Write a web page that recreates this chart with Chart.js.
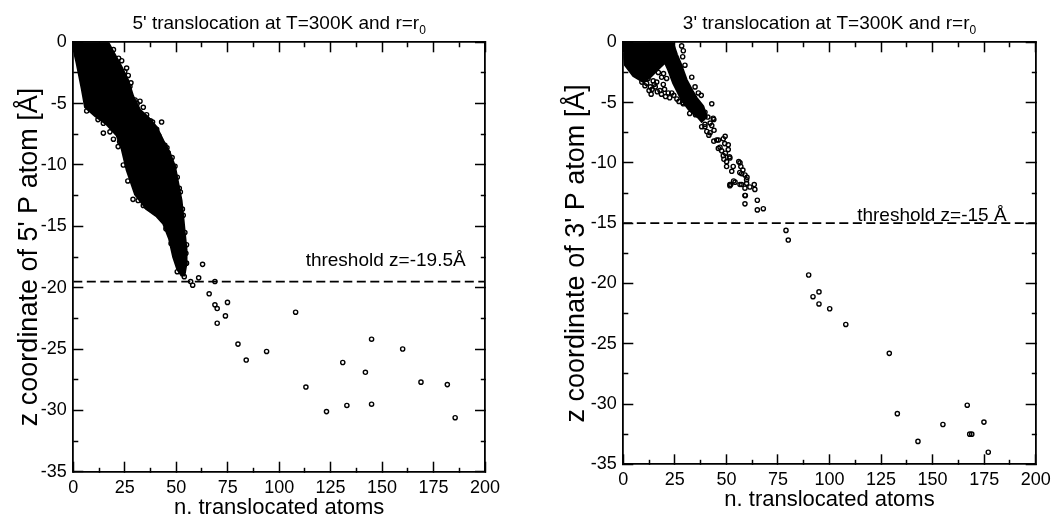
<!DOCTYPE html>
<html>
<head>
<meta charset="utf-8">
<script src="https://cdn.jsdelivr.net/npm/chart.js@4.4.1/dist/chart.umd.min.js"></script>
<style>
  html, body { margin: 0; padding: 0; background: #fff; }
  #wrap { position: relative; width: 1056px; height: 517px; overflow: hidden; background: #fff; }
  canvas { position: absolute; top: 0; }
  #c5 { left: 0; }
  #c3 { left: 528px; }
</style>
</head>
<body>
<div id="wrap">
  <canvas id="c5" width="528" height="517"></canvas>
  <canvas id="c3" width="528" height="517"></canvas>
</div>
<script>
// ---- axes ----
const xTicks = [0, 25, 50, 75, 100, 125, 150, 175, 200];
const xMinorTicks = [12.5, 37.5, 62.5, 87.5, 112.5, 137.5, 162.5, 187.5];
const zTicks = [0, -5, -10, -15, -20, -25, -30, -35];
const zMinorTicks = [-2.5, -7.5, -12.5, -17.5, -22.5, -27.5, -32.5];

// ---- 5' translocation ----
// outline of the saturated cloud of frames (x = translocated atoms, z = P coordinate)
const cloud5X = [0, 17, 20.2, 23.5, 26.7, 29.1, 32.4, 36.4, 40.5, 43.7, 46.9, 49.4, 51, 52.6, 53.4, 54.2, 55, 55, 54, 52.5, 50.5, 48.5, 46.5, 43.7, 40.5, 35.6, 30, 25.9, 23.5, 21.1, 16.2, 10.5, 5.7, 4.1, 1.6, 0];
const cloud5Z = [0, 0, -1.0, -2.0, -3.1, -4.4, -5.5, -6.1, -6.9, -8.0, -9.0, -10.1, -11.5, -12.9, -14.2, -15.6, -16.9, -18.0, -19.0, -19.0, -18.5, -17.5, -16.0, -14.8, -14.2, -13.6, -12.4, -10.4, -8.7, -7.6, -6.7, -6.0, -5.3, -3.8, -1.7, -0.5];
// individual frames around the cloud and after the threshold
const frames5X = [14.6, 14.6, 17.8, 21.8, 24.3, 34, 35.6, 37.2, 38, 41.3, 42, 42.9, 25.9, 26.7, 30, 32.4, 35.6, 42.9, 40.5, 46.1, 46.9, 48.5, 49.4, 53.4, 54.7, 55, 54.2, 53.9, 23.5, 28, 38.5, 44.5, 48, 50.5, 52, 54.2, 55,
  19.5, 22, 25, 27.5, 31, 34, 37.5, 41.5, 45.5, 51.5, 53, 6.5, 12, 19.5, 22.5, 26.5, 29, 31.5, 45, 47.5, 50.5,
  62.8, 57, 58, 60.9, 68.8, 66, 68.8, 69.9, 74.9, 73.9, 69.9, 80, 84, 93.9, 108, 113, 123, 130.9, 132.9, 141.9, 144.9, 144.9, 160, 168.9, 181.7, 185.5];
const frames5Z = [-6.6, -7.4, -7.3, -8.5, -10.0, -13.3, -13.4, -13.5, -13.6, -13.9, -14.1, -14.1, -2.1, -2.7, -4.7, -4.8, -5.9, -6.5, -7.1, -9.0, -9.9, -10.1, -10.1, -14.1, -17.2, -18.0, -18.0, -19.1, -1.5, -3.3, -6.5, -8.4, -9.4, -11.0, -12.2, -15.5, -16.5,
  -0.6, -1.3, -2.4, -3.6, -5.0, -5.3, -6.4, -7.6, -8.6, -11.9, -13.6, -5.6, -6.3, -7.9, -8.1, -11.3, -12.8, -12.9, -15.2, -16.4, -18.7,
  -18.1, -19.5, -19.8, -19.2, -19.5, -20.5, -21.4, -21.7, -21.2, -22.3, -22.9, -24.6, -25.9, -25.2, -22.0, -28.1, -30.1, -26.1, -29.6, -26.9, -24.2, -29.5, -25.0, -27.7, -27.9, -30.6];
const threshold5 = -19.5;

// ---- 3' translocation ----
const cloud3X = [0, 24, 26, 28, 30.7, 33.5, 35.6, 38.8, 40.5, 38, 36.6, 31.8, 28.3, 24.2, 21.8, 20.2, 17.8, 13.1, 9.7, 4.8, 0.8, 0];
const cloud3Z = [0, 0, -1.0, -1.8, -3.1, -4.0, -4.6, -5.3, -6.2, -6.6, -6.3, -5.6, -4.8, -3.4, -2.3, -1.7, -2.1, -2.9, -3.3, -2.8, -1.9, -0.9];
const frames3X = [28.3, 29.1, 28.8, 29.9, 33.2, 34.8, 36.4, 37.8, 42.9, 39.6, 43.6, 42.1, 39.6, 42.1, 45.3, 49.4, 46.9, 50.9, 51.7, 50.1, 56.6, 57.4, 59.8, 51.7, 59, 59,
  11.3, 13.1, 15.5, 17.8, 19.4, 21.8, 21, 18.6, 16.2, 12, 14.5, 17, 19.5, 28.8, 29.1,
  9, 10.5, 12.5, 14, 16.5, 18.5, 20.5, 22.5, 23.5, 20, 15, 13.5, 24.5, 26, 27,
  32.2, 35, 38, 41, 43.9, 38, 39.6, 42.9, 43.9, 46.1, 48.5, 49.2, 50.9, 46.1, 47.7, 48.5, 49.5, 50.1, 48.8, 51.5, 53.3, 52.6, 56, 57, 58, 59, 60, 56.5, 51.7, 53.5, 57.4, 59, 59.8, 54.2, 56.6, 61.4, 63.5, 63.8, 52.1, 59.2, 65, 67.9, 65, 40.5, 41.5, 44,
  78.9, 80, 89.9, 92, 94.9, 94.9, 100.1, 107.9, 129, 132.9, 142.9, 155, 166.8, 168, 169, 174.9, 177];
const frames3Z = [-0.3, -0.7, -1.2, -1.9, -2.9, -3.7, -4.2, -4.4, -5.1, -5.8, -6.3, -6.7, -7.0, -7.5, -8.1, -7.8, -8.7, -8.9, -9.6, -10.3, -10.0, -10.9, -11.4, -11.8, -12.7, -13.4,
  -3.4, -3.7, -3.7, -4.0, -3.5, -4.2, -3.0, -2.9, -3.3, -3.0, -3.2, -2.5, -2.6, -5.0, -5.1,
  -3.3, -3.6, -4.0, -3.9, -4.1, -4.3, -4.5, -4.6, -4.2, -3.9, -3.5, -4.3, -4.4, -4.7, -4.9,
  -5.9, -6.0, -6.1, -6.2, -6.4, -7.0, -6.8, -6.9, -8.2, -8.1, -8.0, -8.4, -8.5, -8.8, -9.0, -9.4, -9.2, -9.9, -9.7, -9.5, -10.3, -10.7, -9.9, -10.3, -10.6, -11.0, -11.2, -10.8, -11.9, -11.5, -11.8, -12.1, -11.7, -11.6, -11.8, -12.0, -11.8, -12.2, -11.8, -12.7, -13.1, -13.8, -13.9, -7.4, -7.7, -7.3,
  -15.6, -16.4, -19.3, -21.1, -20.7, -21.7, -22.1, -23.4, -25.8, -30.8, -33.1, -31.7, -30.1, -32.5, -32.5, -31.5, -34.0];
const threshold3 = -15;

const FONT = "'Liberation Sans', Arial, sans-serif";

const pairs = (xs, zs) => xs.map((v, i) => ({ x: v, y: zs[i] }));

// panel title (with subscript) and threshold caption
const panelText = {
  id: 'panelText',
  afterDraw(chart, args, o) {
    const ctx = chart.ctx;
    const a = chart.chartArea;
    const sx = chart.scales.x;
    const sy = chart.scales.y;
    ctx.save();
    ctx.fillStyle = '#000';
    ctx.textBaseline = 'alphabetic';
    ctx.font = '19px ' + FONT;
    const wMain = ctx.measureText(o.title).width;
    ctx.font = '12px ' + FONT;
    const wSub = ctx.measureText(o.sub).width;
    const x0 = (a.left + a.right) / 2 - (wMain + wSub) / 2;
    ctx.textAlign = 'left';
    ctx.font = '19px ' + FONT;
    ctx.fillText(o.title, x0, 28.5);
    ctx.font = '12px ' + FONT;
    ctx.fillText(o.sub, x0 + wMain, 33.5);
    ctx.font = '19px ' + FONT;
    ctx.textAlign = 'right';
    ctx.fillText(o.caption, sx.getPixelForValue(o.captionX), sy.getPixelForValue(o.captionZ));
    ctx.restore();
  }
};

// fixed scale thickness; no extra room reserved for overhanging end labels
const fixSize = (prop, size) => s => {
  s[prop] = size;
  s.paddingLeft = s.paddingRight = s.paddingTop = s.paddingBottom = 0;
};

// one side of the frame: border line plus inward ticks (minor ones drawn half length via dash)
function sideScale(position, majors, minors, min, max, extra) {
  const all = majors.concat(minors).sort((p, q) => p - q);
  // the tick segment starts at the frame on bottom/right, at its inner end on top/left
  const startsAtFrame = position === 'bottom' || position === 'right';
  const minorDash = startsAtFrame ? [5, 60] : [0, 5, 5, 60];
  return Object.assign({
    type: 'linear', position, min, max,
    afterBuildTicks: s => { s.ticks = all.map(v => ({ value: v })); },
    grid: {
      display: true,
      drawOnChartArea: false,
      drawTicks: true,
      tickLength: -10,
      tickWidth: 1.5,
      tickColor: '#000',
      tickBorderDash: c => (c.tick && !majors.includes(c.tick.value)) ? minorDash : []
    },
    border: { display: true, color: '#000', width: 1.8 },
    ticks: { display: false, autoSkip: false }
  }, extra);
}

function makePanel(id, g) {
  const scaleFont = { family: FONT, size: 18 };
  return new Chart(document.getElementById(id), {
    type: 'scatter',
    data: {
      datasets: [
        {
          type: 'line',
          data: pairs(g.cloudX, g.cloudZ),
          showLine: true,
          fill: 'shape',
          backgroundColor: '#000',
          borderColor: '#000',
          borderWidth: 2,
          pointRadius: 0,
          tension: 0,
          order: 3
        },
        {
          data: pairs(g.framesX, g.framesZ),
          pointStyle: 'circle',
          pointRadius: 2.1,
          borderWidth: 1.4,
          borderColor: '#000',
          backgroundColor: 'rgba(255,255,255,0)',
          order: 2
        },
        {
          type: 'line',
          data: [{ x: 0, y: g.threshold }, { x: 200, y: g.threshold }],
          borderColor: '#000',
          borderWidth: 1.8,
          borderDash: [9, 4.5],
          pointRadius: 0,
          fill: false,
          order: 1
        }
      ]
    },
    options: {
      responsive: false,
      animation: false,
      events: [],
      layout: { padding: { top: 42.3, right: g.padRight, left: 0, bottom: 0 } },
      plugins: {
        legend: { display: false },
        tooltip: { enabled: false },
        panelText: { title: g.title, sub: '0', caption: g.caption, captionX: g.captionX, captionZ: g.captionZ }
      },
      scales: {
        x: sideScale('bottom', xTicks, xMinorTicks, 0, 200, {
          afterFit: fixSize('height', g.xHeight),
          ticks: { display: true, font: scaleFont, color: '#000', padding: 15.4, maxRotation: 0, autoSkip: false,
                   callback: v => xTicks.includes(v) ? String(v) : '' },
          title: { display: true, text: 'n. translocated atoms', color: '#000', font: { family: FONT, size: 22 }, padding: { top: 0, bottom: g.xTitlePad } }
        }),
        y: sideScale('left', zTicks, zMinorTicks, -35, 0, {
          afterFit: fixSize('width', g.yWidth),
          ticks: { display: true, font: scaleFont, color: '#000', padding: 16.5, autoSkip: false,
                   callback: v => zTicks.includes(v) ? String(v) : '' },
          title: { display: true, text: g.yTitle, color: '#000', font: { family: FONT, size: 27 }, padding: { top: g.yTitlePad, bottom: 0 } }
        }),
        xTop: sideScale('top', xTicks, xMinorTicks, 0, 200, { axis: 'x', afterFit: fixSize('height', 0) }),
        zRight: sideScale('right', zTicks, zMinorTicks, -35, 0, { axis: 'y', afterFit: fixSize('width', 0) })
      }
    },
    plugins: [panelText]
  });
}

makePanel('c5', {
  cloudX: cloud5X, cloudZ: cloud5Z, framesX: frames5X, framesZ: frames5Z, threshold: threshold5,
  title: "5' translocation at T=300K and r=r", caption: 'threshold z=-19.5Å', captionX: 190.6, captionZ: -18.2,
  yTitle: "z coordinate of 5' P atom [Å]",
  padRight: 43, yWidth: 73.3, xHeight: 45.3, xTitlePad: -4.6, yTitlePad: 13.8
});

makePanel('c3', {
  cloudX: cloud3X, cloudZ: cloud3Z, framesX: frames3X, framesZ: frames3Z, threshold: threshold3,
  title: "3' translocation at T=300K and r=r", caption: 'threshold z=-15 Å', captionX: 185.9, captionZ: -14.82,
  yTitle: "z coordinate of 3' P atom [Å]",
  padRight: 20.3, yWidth: 95.3, xHeight: 52.7, xTitlePad: 3.4, yTitlePad: 32.8
});
</script>
</body>
</html>
